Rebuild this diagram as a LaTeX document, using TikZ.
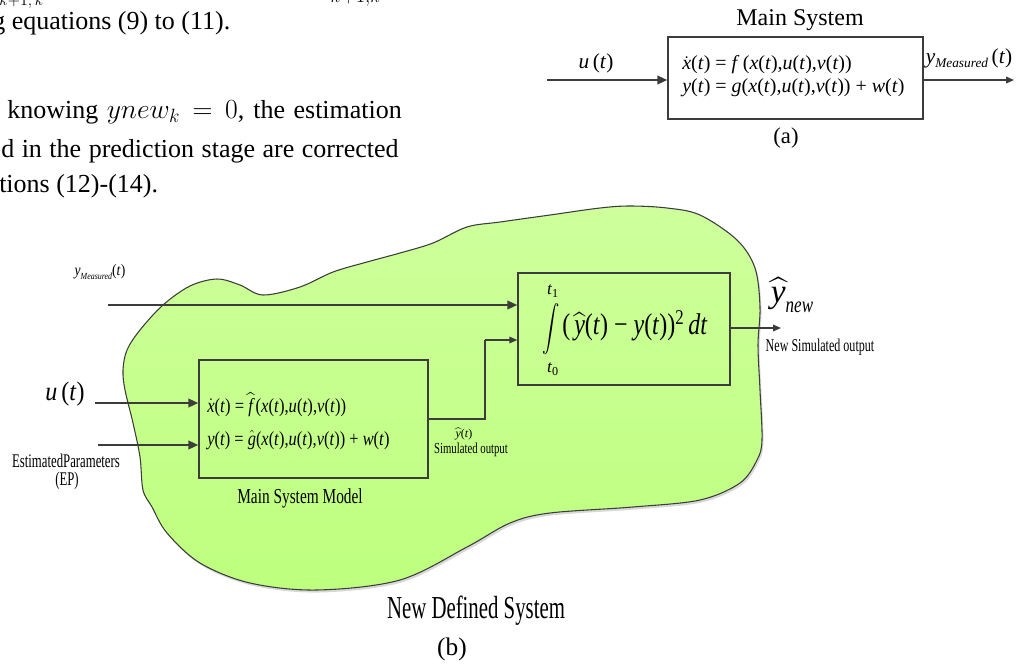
\documentclass[tikz,border=0pt]{standalone}
\usepackage{exscale}
\usepackage{fontspec}
\setmainfont{Liberation Serif}
\usepackage{graphicx}
\usetikzlibrary{arrows.meta}
\definecolor{linec}{RGB}{60,60,60}
\definecolor{blobtop}{RGB}{206,255,156}
\definecolor{blobbot}{RGB}{190,255,126}
\newcommand{\tv}[1]{\textit{#1}}
\newcommand{\fsz}[1]{\fontsize{#1}{#1}\selectfont}
\newcommand{\cond}[2]{\scalebox{#1}[1]{#2}}
\newcommand{\oft}{(\tv{t})}
\begin{document}
\begin{tikzpicture}[x=0.75pt,y=-0.75pt,
  txt/.style={inner sep=0pt, text=black},
  sysbox/.style={draw=linec, line width=1.1pt, inner sep=0pt},
  bigarrow/.style={draw=linec, line width=1.5pt, -{Triangle[length=7.5pt,width=6.5pt]}},
  smallarrow/.style={draw=linec, line width=1pt, -{Triangle[length=6pt,width=5pt]}},
  plainline/.style={draw=linec, line width=1pt}]
\useasboundingbox (0,0) rectangle (1017,668);

% ---------- cut-off body text (top left) ----------
\node[txt, anchor=base west] (f1) at (-1,5) {\fsz{13}$k{+}1,k$};
\node[txt, anchor=base west] (f2) at (313,-2) {\fsz{19.5}$P_{k+1,k}$};
\node[txt, anchor=base west] (l2) at (-8,29) {\fsz{19.5}g equations (9) to (11).};
\node[txt, anchor=base west] (l3) at (7,118) {\fsz{19.5}\makebox[296pt][s]{knowing $ynew_k = 0$, the estimation}};
\node[txt, anchor=base west] (l4) at (1,157) {\fsz{19.5}\makebox[298pt][s]{d in the prediction stage are corrected}};
\node[txt, anchor=base west] (l5) at (-1,192) {\fsz{19.5}tions (12)-(14).};

% ---------- (a) Main System ----------
\node[sysbox, minimum width=191.25pt, minimum height=61.5pt] (ms) at (795.5,78) {};
\node[txt] (mstitle) at (800,20) {\fsz{18}Main System};
\node[txt, anchor=west] (mseq1) at (682,65) {\fsz{15}$\dot{\tv{x}}$\oft{} = \tv{f}\,(\tv{x}\oft,\tv{u}\oft,\tv{v}\oft)};
\node[txt, anchor=west] (mseq2) at (682,88) {\fsz{15}\tv{y}\oft{} = \tv{g}(\tv{x}\oft,\tv{u}\oft,\tv{v}\oft) + \tv{w}\oft};
\coordinate (ain) at (547,80);
\coordinate (aout) at (1014,80);
\draw[bigarrow] (ain) -- (ain -| ms.west);
\draw[smallarrow] (ms.east |- aout) -- (aout);
\node[txt] (ulab) at (596,63) {\fsz{16}\tv{u}\,(\tv{t})};
\node[txt] (ymlab) at (969,58) {\fsz{16}\tv{y}\raisebox{-3pt}{\fsz{10}\tv{Measured}}\,\oft};
\node[txt] (alab) at (786,138) {\fsz{17}(a)};

% ---------- (b) New Defined System ----------
\fill[black!30, opacity=0.5, shift={(1.5,2.5)}]
  plot[smooth cycle, tension=0.55] coordinates {
  (163,305) (190,286) (217,279) (240,285) (263,295) (300,287) (333,272) (367,262)
  (400,253) (433,243) (467,227) (500,222) (550,215) (600,208) (630,206) (667,208)
  (700,215) (737,240) (755,268) (760,307) (758,345) (760,390) (762,440) (757,460)
  (740,483) (700,500) (633,507) (550,513) (510,523) (467,547) (400,580) (317,590)
  (250,583) (200,563) (167,533) (152,507) (143,490) (140,457) (133,423) (125,390)
  (123,370) (127,350) (140,330)};
\draw[draw=linec, line width=0.8pt, top color=blobtop, bottom color=blobbot]
  plot[smooth cycle, tension=0.55] coordinates {
  (163,305) (190,286) (217,279) (240,285) (263,295) (300,287) (333,272) (367,262)
  (400,253) (433,243) (467,227) (500,222) (550,215) (600,208) (630,206) (667,208)
  (700,215) (737,240) (755,268) (760,307) (758,345) (760,390) (762,440) (757,460)
  (740,483) (700,500) (633,507) (550,513) (510,523) (467,547) (400,580) (317,590)
  (250,583) (200,563) (167,533) (152,507) (143,490) (140,457) (133,423) (125,390)
  (123,370) (127,350) (140,330)};

\node[sysbox, minimum width=159pt, minimum height=84pt] (ib) at (624,329) {};
\node[sysbox, minimum width=171.75pt, minimum height=88.5pt] (mb) at (313.5,419) {};

% integral content
\node[txt] (intsign) at (551,329) {\cond{0.75}{\fsz{16}$\displaystyle\int$}};
\node[txt] (tone) at (553,291) {\fsz{13}\tv{t}\textsubscript{1}};
\node[txt] (tzero) at (553,369) {\fsz{13}\tv{t}\textsubscript{0}};
\node[txt, anchor=west] (ibody) at (562,326) {\fsz{22.5}\cond{0.8}{(\,$\widehat{\tv{y}}$\oft{} − \tv{y}\oft)\textsuperscript{2}\,\tv{dt}}};

% model equations
\node[txt, anchor=west] (mbeq1) at (207,405) {\fsz{15}\cond{0.83}{$\dot{\tv{x}}$\oft{} = $\widehat{\tv{f}}$\,(\tv{x}\oft,\tv{u}\oft,\tv{v}\oft)}};
\node[txt, anchor=west] (mbeq2) at (207,440) {\fsz{15}\cond{0.82}{\tv{y}\oft{} = $\hat{\tv{g}}$(\tv{x}\oft,\tv{u}\oft,\tv{v}\oft) + \tv{w}\oft}};
\node[txt] (mblab) at (300,498) {\fsz{16}\cond{0.72}{Main System Model}};

% inputs
\coordinate (ymin) at (108,305);
\coordinate (uin) at (95,403);
\coordinate (epin) at (98,445);
\coordinate (jn) at (485,340);
\coordinate (bout) at (781,328);
\draw[bigarrow] (ymin) -- (ymin -| ib.west);
\draw[bigarrow] (uin) -- (uin -| mb.west);
\draw[bigarrow] (epin) -- (epin -| mb.west);
\draw[plainline] (mb.east) -| (jn);
\draw[smallarrow] (jn) -- (jn -| ib.west);
\draw[smallarrow] (ib.east |- bout) -- (bout);

\node[txt] (ymlabb) at (100,272) {\fsz{12}\cond{0.85}{\tv{y}\raisebox{-2.5pt}{\fsz{7}\tv{Measured}}\oft}};
\node[txt] (ulabb) at (65,394) {\fsz{20}\cond{0.9}{\tv{u}\,(\tv{t})}};
\node[txt] (eplab) at (66,461) {\fsz{14.5}\cond{0.66}{EstimatedParameters}};
\node[txt] (eplab2) at (67,481) {\fsz{14.5}\cond{0.66}{(EP)}};
\node[txt] (simy) at (464,434) {\fsz{9}$\widehat{\tv{y}}$\oft};
\node[txt] (simlab) at (471,450) {\fsz{11.5}\cond{0.7}{Simulated output}};
\node[txt] (ynew) at (792,295) {\fsz{25}$\widehat{\tv{y}}$\raisebox{-7pt}{\fsz{17}\cond{0.75}{\tv{new}}}};
\node[txt] (nslab) at (820,347) {\fsz{13.5}\cond{0.67}{New Simulated output}};
\node[txt] (ndslab) at (476,611) {\fsz{24}\cond{0.65}{New Defined System}};
\node[txt] (blab) at (452,649) {\fsz{19}(b)};
\end{tikzpicture}
\end{document}
